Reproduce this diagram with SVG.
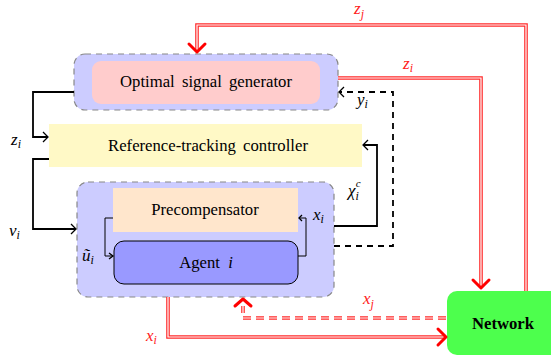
<svg xmlns="http://www.w3.org/2000/svg" width="551" height="363" viewBox="0 0 551 363">
<defs>
<style>
.t{font-size:16.7px;fill:#000}
.m{font-style:italic;font-size:17px;fill:#000}
.r{fill:#ff2020}
.blk{fill:none;stroke:#000;stroke-width:1.8}
.thin{fill:none;stroke:#000;stroke-width:1}
.dash{fill:none;stroke:#000;stroke-width:1.8;stroke-dasharray:6 5}
.ro{fill:none;stroke:#ff2a2a;stroke-width:3.6}
.ri{fill:none;stroke:#fff;stroke-width:1.2}
.ha{fill:none;stroke:#000;stroke-width:1.3}
.hr{fill:none;stroke:#ff0000;stroke-width:3;stroke-linecap:round;stroke-linejoin:round}
</style>
</defs>
<rect width="551" height="363" fill="#fff"/>
<g id="top-group">
<rect x="74" y="54" width="264" height="56" rx="11" fill="#ccccff" stroke="#888" stroke-width="1.2" stroke-dasharray="6 5"/>
</g>
<g id="optimal-signal-generator">
<rect x="92" y="61" width="228" height="43" rx="9" fill="#ffcccc"/>
<text class="t" font-family="Liberation Serif" x="206" y="87" text-anchor="middle" word-spacing="3">Optimal signal generator</text>
</g>
<g id="reference-tracking-controller">
<rect x="49" y="124" width="313" height="43" fill="#fff9c6"/>
<text class="t" font-family="Liberation Serif" x="208" y="151" text-anchor="middle" word-spacing="3">Reference-tracking controller</text>
</g>
<g id="bottom-group">
<rect x="77" y="182" width="257" height="115" rx="11" fill="#ccccff" stroke="#888" stroke-width="1.2" stroke-dasharray="6 5"/>
</g>
<g id="precompensator">
<rect x="113" y="188" width="185" height="44" fill="#ffe6cc"/>
<text class="t" font-family="Liberation Serif" x="205" y="215" text-anchor="middle">Precompensator</text>
</g>
<g id="agent">
<rect x="114" y="241" width="184" height="43" rx="10" fill="#9999ff" stroke="#000" stroke-width="1"/>
<text class="t" font-family="Liberation Serif" x="206" y="268" text-anchor="middle" word-spacing="4">Agent <tspan font-style="italic">i</tspan></text>
</g>
<g id="network">
<rect x="447" y="291" width="120" height="64" rx="10" fill="#4dff4d"/>
<text class="t" font-family="Liberation Serif" x="503" y="329" text-anchor="middle" font-weight="bold" font-size="17.5">Network</text>
</g>
<g id="connectors">
<polyline class="blk" points="74,92 33,92 33,137 48,137"/>
<polyline class="ha" points="43,132 48,137 43,142"/>
<polyline class="blk" points="49,159 33,159 33,229 76,229"/>
<polyline class="ha" points="71,224 76,229 71,234"/>
<polyline class="thin" points="113,218 105,218 105,256 113,256"/>
<polyline class="ha" points="109,253 113,256 109,259"/>
<polyline class="thin" points="298,256 306,256 306,218 299,218"/>
<polyline class="ha" points="302,215 299,218 302,221"/>
<polyline class="blk" points="334,226 377,226 377,145 363,145"/>
<polyline class="ha" points="368,140 363,145 368,150"/>
<polyline class="dash" points="334,246 393,246 393,92 340,92"/>
<polyline class="ha" points="344,87 339,92 344,97"/>
<polyline class="ro" points="526,291 526,25 197,25 197,51"/>
<polyline class="ri" points="526,291 526,25 197,25 197,51"/>
<polyline class="hr" points="189,44 197,52 205,44"/>
<polyline class="ro" points="338,78 481,78 481,286"/>
<polyline class="ri" points="338,78 481,78 481,286"/>
<polyline class="hr" points="473,280 481,288 489,280"/>
<polyline class="ro" points="168,297 168,337 444,337"/>
<polyline class="ri" points="168,297 168,337 444,337"/>
<polyline class="hr" points="438,329 446,337 438,345"/>
<polyline class="ro" points="446,318 243,318 243,306" stroke-dasharray="8 5"/>
<polyline class="ri" points="446,318 243,318 243,306" stroke-dasharray="8 5"/>
<polyline class="hr" points="235,306 243,299 251,306"/>
</g>
<g id="labels" font-family="Liberation Serif">
<text class="m" font-family="Liberation Serif" x="11" y="145">z<tspan font-size="12" dy="3">i</tspan></text>
<text class="m" font-family="Liberation Serif" x="9" y="236">v<tspan font-size="12" dy="3">i</tspan></text>
<text class="m" font-family="Liberation Serif" x="82" y="261">ũ<tspan font-size="12" dy="3">i</tspan></text>
<text class="m" font-family="Liberation Serif" x="313" y="220">x<tspan font-size="12" dy="3">i</tspan></text>
<text class="m" font-family="Liberation Serif" x="348" y="196">χ<tspan font-size="12" dy="4">i</tspan><tspan font-size="11" dx="-3" dy="-13">c</tspan></text>
<text class="m" font-family="Liberation Serif" x="357" y="105">y<tspan font-size="12" dy="3">i</tspan></text>
<text class="m r" font-family="Liberation Serif" x="354" y="14">z<tspan font-size="12" dy="4">j</tspan></text>
<text class="m r" font-family="Liberation Serif" x="403" y="69">z<tspan font-size="12" dy="3">i</tspan></text>
<text class="m r" font-family="Liberation Serif" x="363" y="304">x<tspan font-size="12" dy="4">j</tspan></text>
<text class="m r" font-family="Liberation Serif" x="146" y="341">x<tspan font-size="12" dy="3">i</tspan></text>
</g>
</svg>
